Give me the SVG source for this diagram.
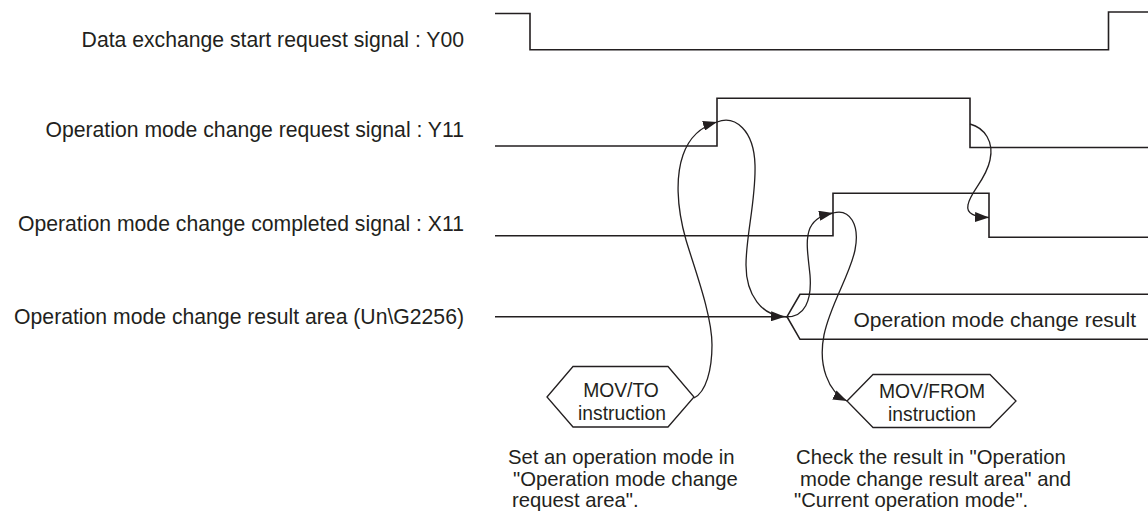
<svg xmlns="http://www.w3.org/2000/svg" width="1148" height="513" viewBox="0 0 1148 513">
<style>
text{font-family:"Liberation Sans",Arial,sans-serif;fill:#231f20}
.lbl{font-size:21.2px;text-anchor:end}
.note{font-size:20.3px}
.hx{font-size:19.3px;text-anchor:middle}
.sig{fill:none;stroke:#231f20;stroke-width:1.6}
.cv{fill:none;stroke:#231f20;stroke-width:1.3}
</style>
<defs>
<marker id="ah" viewBox="0 0 14 10" refX="14" refY="5" markerWidth="14" markerHeight="10" markerUnits="userSpaceOnUse" orient="auto">
<path d="M0,0 L14,5 L0,10 Z" fill="#231f20"/>
</marker>
</defs>
<g id="labels">
<text class="lbl" x="464" y="46.5">Data exchange start request signal : Y00</text>
<text class="lbl" x="464" y="136.7">Operation mode change request signal : Y11</text>
<text class="lbl" x="464" y="230.7">Operation mode change completed signal : X11</text>
<text class="lbl" x="464" y="324">Operation mode change result area (Un\G2256)</text>
</g>
<g id="sig-y00"><polyline class="sig" points="495,13.5 530,13.5 530,49.7 1108.5,49.7 1108.5,12 1148,12"/></g>
<g id="sig-y11"><polyline class="sig" points="495,146 717,146 717,98.3 970,98.3 970,147.5 1148,147.5"/></g>
<g id="sig-x11"><polyline class="sig" points="495,235.7 833,235.7 833,193.3 989,193.3 989,237.3 1148,237.3"/></g>
<g id="sig-result">
<polyline class="sig" points="495,316.7 787,316.7"/>
<polyline class="sig" points="1148,294.3 800,294.3 787,316.7 800,339.3 1148,339.3"/>
<text x="1136" y="327" style="font-size:21px;text-anchor:end">Operation mode change result</text>
</g>
<g id="movto">
<polygon class="sig" points="547,397 573,366.5 668,366.5 694,397 668,427 573,427" style="stroke-width:1.3"/>
<text class="hx" x="621" y="397">MOV/TO</text>
<text class="hx" x="622" y="420">instruction</text>
</g>
<g id="movfrom">
<polygon class="sig" points="847,401 873,374.5 990,374.5 1016,401 990,427.5 873,427.5" style="stroke-width:1.3"/>
<text class="hx" x="932" y="398">MOV/FROM</text>
<text class="hx" x="932" y="421">instruction</text>
</g>
<g id="note-left">
<text class="note" x="508" y="464">Set an operation mode in</text>
<text class="note" x="513" y="486">"Operation mode change</text>
<text class="note" x="512" y="507">request area".</text>
</g>
<g id="note-right">
<text class="note" x="796" y="464">Check the result in "Operation</text>
<text class="note" x="800" y="486">mode change result area" and</text>
<text class="note" x="794" y="507">"Current operation mode".</text>
</g>
<g id="connectors">
<path class="cv" marker-end="url(#ah)" d="M694,398 C706,392 712,370 712,345 C712,315 695,270 686,240 C676,205 676,175 683,155 C690,135 703,126 717,122"/>
<path class="cv" marker-end="url(#ah)" d="M717,122 C735,115 754,130 755,165 C756,200 746,235 746,265 C746,295 762,316 785,316.7"/>
<path class="cv" marker-end="url(#ah)" d="M785,316.7 C805,318 812,300 810,275 C808,255 805,240 810,228 C815,218 823,215 833,213"/>
<path class="cv" marker-end="url(#ah)" d="M833,213 C850,208 860,225 855,250 C850,275 830,305 824,335 C818,365 828,392 847,401"/>
<path class="cv" marker-end="url(#ah)" d="M970,124 C985,128 994,142 990,160 C986,180 970,192 968,205 C966,214 975,217 989,217.5"/>
</g>
</svg>
